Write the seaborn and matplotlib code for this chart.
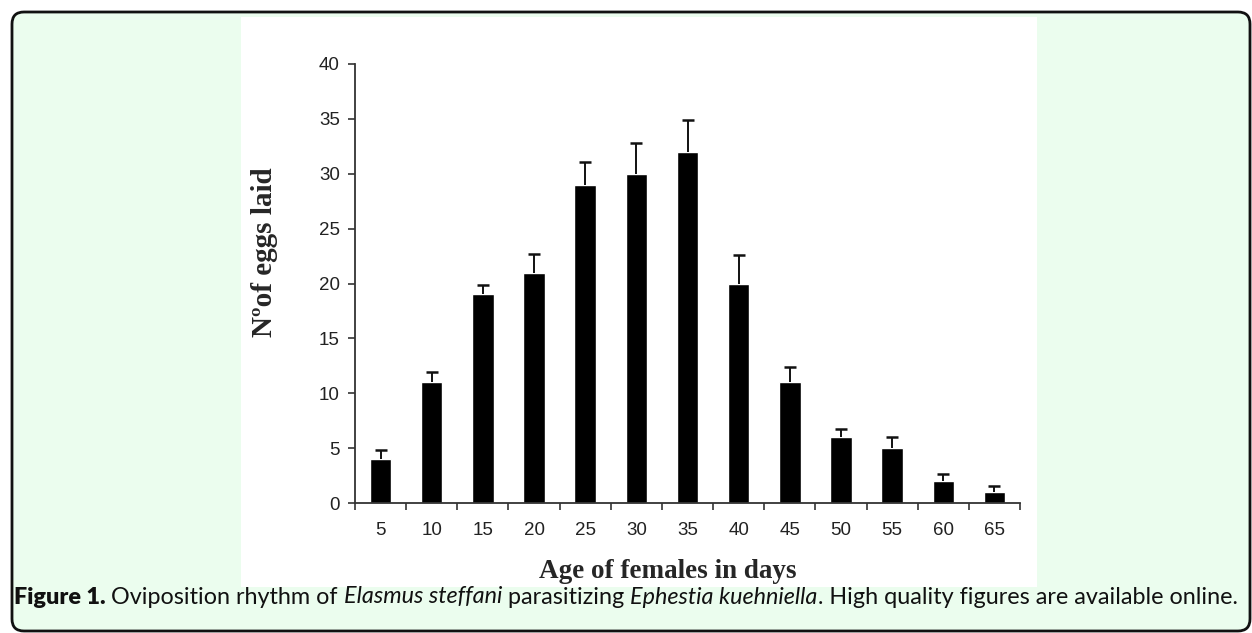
import numpy as np
import pandas as pd
import matplotlib
matplotlib.use("Agg")
import matplotlib.pyplot as plt
import seaborn as sns
from matplotlib.patches import FancyBboxPatch, Rectangle
from matplotlib.transforms import IdentityTransform

# Oviposition data
ages = ["5", "10", "15", "20", "25", "30", "35", "40", "45", "50", "55", "60", "65"]
eggs = [4, 11, 19, 21, 29, 30, 32, 20, 11, 6, 5, 2, 1]
eggs_err = [0.8, 0.95, 0.9, 1.7, 2.1, 2.8, 2.9, 2.6, 1.4, 0.7, 1.05, 0.65, 0.55]

df = pd.DataFrame({"age": ages, "eggs": eggs})

sns.set_style("white")
W, H = 1252, 633
fig = plt.figure(figsize=(W / 100, H / 100), dpi=100, facecolor="white")

# page background: green box with rounded border, white panel for the chart
fig.patches.append(FancyBboxPatch((12, 2), 1238, 619,
                                  boxstyle="round,pad=0,rounding_size=12",
                                  transform=IdentityTransform(), facecolor="#ebfdee",
                                  edgecolor="#111111", linewidth=2, zorder=-3))
fig.patches.append(Rectangle((241 / W, 1 - 587 / H), 796 / W, 570 / H,
                             transform=fig.transFigure, facecolor="white",
                             edgecolor="none", zorder=-2))

ax = fig.add_axes([355 / W, 1 - 503 / H, 665 / W, 439 / H])
ax.set_facecolor("none")
sns.barplot(data=df, x="age", y="eggs", color="black", width=0.42,
            saturation=1, errorbar=None, ax=ax)
xpos = np.arange(len(ages))
eb = ax.errorbar(xpos, eggs, yerr=[np.zeros(len(eggs)), eggs_err], fmt="none",
                 ecolor="#111111", elinewidth=1.4, capsize=4.5, capthick=1.8)
# only the upper caps are shown
eb[1][0].set_visible(False)

ax.set_xlim(-0.5, len(ages) - 0.5)
ax.set_ylim(0, 40)
ax.set_yticks(range(0, 41, 5))
ax.set_xticks(xpos)
ax.set_xticks(np.arange(-0.5, len(ages)), minor=True)
ax.tick_params(axis="x", which="major", bottom=False, length=0, pad=14, labelsize=13.5)
ax.tick_params(axis="x", which="minor", bottom=True, length=5, width=1.2, color="#333333")
ax.tick_params(axis="y", left=True, length=5, width=1.2, color="#333333",
               labelsize=13.5, pad=6)
for lab in ax.get_xticklabels() + ax.get_yticklabels():
    lab.set_family("Liberation Sans")
    lab.set_color("#222222")
sns.despine(ax=ax)
for s in ["left", "bottom"]:
    ax.spines[s].set_color("#333333")
    ax.spines[s].set_linewidth(1.3)
ax.set_xlabel("")
ax.set_ylabel("")

fig.text(265 / W, 1 - 252 / H, "Nºof eggs laid", rotation=90, ha="center", va="center",
         family="Liberation Serif", weight="bold", fontsize=21)
fig.text(668 / W, 1 - 572 / H, "Age of females in days", ha="center", va="center",
         family="Liberation Serif", weight="bold", fontsize=19.5)

# caption, written as consecutive runs
renderer = fig.canvas.get_renderer()
parts = [("Figure 1. ", dict(weight="heavy")),
         ("Oviposition rhythm of ", {}),
         ("Elasmus steffani", dict(style="italic")),
         (" parasitizing ", {}),
         ("Ephestia kuehniella", dict(style="italic")),
         (". High quality figures are available online.", {})]
x = 14
for txt, kw in parts:
    t = fig.text(x, H - 597, txt, transform=IdentityTransform(), va="center",
                 family="Lato", fontsize=16.8, color="#111111", **kw)
    x += t.get_window_extent(renderer).width

fig.savefig("out.png", dpi=100, facecolor="white")
